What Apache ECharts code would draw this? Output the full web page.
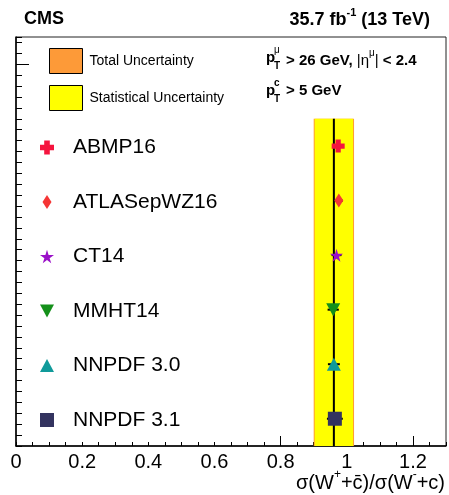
<!DOCTYPE html>
<html>
<head>
<meta charset="utf-8">
<script src="https://cdn.jsdelivr.net/npm/echarts@6/dist/echarts.min.js"></script>
<style>
  html, body { margin: 0; padding: 0; background: #fff; }
  #chart { width: 449px; height: 495px; }
</style>
</head>
<body>
<div id="chart"></div>
<script>
// Measured ratio and its uncertainties
const measuredRatio = 0.961;
const statUncertainty = 0.058;
const totalUncertainty = 0.061;

// Theory predictions (top to bottom)
const modelNames = ['ABMP16', 'ATLASepWZ16', 'CT14', 'MMHT14', 'NNPDF 3.0', 'NNPDF 3.1'];
const modelRatios = [0.974, 0.976, 0.969, 0.959, 0.961, 0.964];
const modelErrors = [0.015, 0.012, 0.015, 0.017, 0.018, 0.024];

// Marker styles for each prediction
const modelColors = ['#f5143e', '#f53535', '#9a10c8', '#14901a', '#109a9a', '#33335f'];
const modelSymbols = [
  'path://M3,0H7V3H10V7H7V10H3V7H0V3H3Z',
  'path://M0,0M14,14M7,0L11.5,7L7,14L2.5,7Z',
  'path://M50,0L61,35L98,35L68,57L79,91L50,70L21,91L32,57L2,35L39,35Z',
  'path://M0,0L14,0L7,13Z',
  'path://M7,0L14,13L0,13Z',
  'rect'
];
const modelSymbolSizes = [13, 14, 13, [14, 13], [14, 13], 14];

const FONT = '"Liberation Sans", Arial, Helvetica, sans-serif';
const nRows = modelNames.length;
const rowPos = modelNames.map((_, i) => nRows - i - 0.5);

const chart = echarts.init(document.getElementById('chart'), null, { renderer: 'canvas' });

function bandItem(color) {
  return function (params, api) {
    const p0 = api.coord([api.value(0), api.value(2)]);
    const p1 = api.coord([api.value(1), api.value(3)]);
    return {
      type: 'rect',
      shape: { x: p0[0], y: p1[1], width: p1[0] - p0[0], height: p0[1] - p1[1] },
      style: { fill: color }
    };
  };
}

const series = [
  {
    name: 'Total Uncertainty',
    type: 'custom',
    renderItem: bandItem('#fd9a38'),
    itemStyle: { color: '#fd9a38' },
    encode: { x: [0, 1], y: [2, 3] },
    data: [[measuredRatio - totalUncertainty, measuredRatio + totalUncertainty, 0, nRows]],
    z: 1,
    silent: true
  },
  {
    name: 'Statistical Uncertainty',
    type: 'custom',
    renderItem: bandItem('#ffff00'),
    itemStyle: { color: '#ffff00' },
    encode: { x: [0, 1], y: [2, 3] },
    data: [[measuredRatio - statUncertainty, measuredRatio + statUncertainty, 0, nRows]],
    z: 2,
    silent: true
  },
  {
    name: 'measured',
    type: 'line',
    data: [[measuredRatio, 0], [measuredRatio, nRows]],
    symbol: 'none',
    lineStyle: { color: '#000', width: 2 },
    z: 3,
    silent: true
  },
  {
    name: 'errors',
    type: 'custom',
    data: modelRatios.map((v, i) => [v, rowPos[i], modelErrors[i]]),
    encode: { x: 0, y: 1 },
    renderItem: function (params, api) {
      const a = api.coord([api.value(0) - api.value(2), api.value(1)]);
      const b = api.coord([api.value(0) + api.value(2), api.value(1)]);
      return {
        type: 'line',
        shape: { x1: a[0], y1: a[1], x2: b[0], y2: b[1] },
        style: { stroke: '#000', lineWidth: 2 }
      };
    },
    z: 4,
    silent: true
  }
];

modelNames.forEach((name, i) => {
  series.push({
    name: name,
    type: 'scatter',
    data: [[modelRatios[i], rowPos[i]]],
    symbol: modelSymbols[i],
    symbolSize: modelSymbolSizes[i],
    itemStyle: { color: modelColors[i], opacity: 1 },
    z: 5,
    silent: true
  });
});

const option = {
  animation: false,
  backgroundColor: '#fff',
  textStyle: { fontFamily: FONT },
  grid: {
    left: 16, right: 3, top: 37, bottom: 49,
    containLabel: false, outerBoundsMode: 'none',
    show: true, borderColor: '#222', borderWidth: 1, backgroundColor: 'transparent'
  },
  xAxis: [
    {
      type: 'value', min: 0, max: 1.3, interval: 0.2,
      axisLine: { show: true, onZero: false, lineStyle: { color: '#000', width: 1.5 } },
      axisTick: { show: true, inside: true, length: 4, lineStyle: { color: '#000', width: 1 } },
      minorTick: { show: true, splitNumber: 4, length: 4, lineStyle: { color: '#000', width: 1 } },
      axisLabel: {
        color: '#000', fontSize: 20, fontFamily: FONT, margin: 6,
        showMaxLabel: false,
        formatter: v => (Math.round(v * 10) / 10).toString()
      },
      splitLine: { show: false }
    },
    {
      type: 'value', min: 0, max: 1.3, position: 'bottom',
      axisLine: { show: false },
      axisTick: { show: true, inside: true, length: 10, customValues: [0.8, 1.0, 1.2], lineStyle: { color: '#000', width: 1 } },
      axisLabel: { show: false },
      splitLine: { show: false }
    }
  ],
  yAxis: [
    {
      type: 'value', min: 0, max: 7.5, interval: 0.2,
      axisLine: { show: true, onZero: false, lineStyle: { color: '#000', width: 1.5 } },
      axisTick: { show: true, inside: true, length: 6, lineStyle: { color: '#000', width: 1 } },
      axisLabel: { show: false },
      splitLine: { show: false }
    },
    {
      type: 'value', min: 0, max: 7.5, position: 'left',
      axisLine: { show: false },
      axisTick: { show: true, inside: true, length: 13, customValues: [7], lineStyle: { color: '#000', width: 1 } },
      axisLabel: { show: false },
      splitLine: { show: false }
    }
  ],
  legend: [
    {
      orient: 'vertical', left: 49, top: 48, padding: 0,
      itemWidth: 33, itemHeight: 25, itemGap: 11,
      selectedMode: false, icon: 'rect',
      textStyle: { fontSize: 14, color: '#000', fontFamily: FONT, lineHeight: 25, padding: [0, 0, 0, 2] },
      data: [
        { name: 'Total Uncertainty', itemStyle: { color: '#fd9a38', borderColor: '#000', borderWidth: 1 } },
        { name: 'Statistical Uncertainty', itemStyle: { color: '#ffff00', borderColor: '#000', borderWidth: 1 } }
      ]
    },
    {
      orient: 'vertical', left: 40, top: 137, padding: 0,
      itemWidth: 14, itemHeight: 14, itemGap: 33.5,
      selectedMode: false,
      textStyle: { fontSize: 21, color: '#000', fontFamily: FONT, lineHeight: 14, padding: [0, 0, 0, 14] },
      data: modelNames.map((n, i) => ({ name: n, icon: modelSymbols[i] }))
    }
  ],
  graphic: [
    {
      type: 'text', left: 24, top: 10,
      style: { text: 'CMS', font: 'bold 18px ' + FONT, fill: '#000' }
    },
    {
      type: 'text', right: 19, top: 7,
      style: {
        text: '{a|35.7 fb}{s|-1}{a| (13 TeV)}',
        fill: '#000',
        rich: {
          a: { font: 'bold 18px ' + FONT, lineHeight: 22, verticalAlign: 'bottom' },
          s: { font: 'bold 11px ' + FONT, lineHeight: 22, verticalAlign: 'top' }
        }
      }
    },
    // kinematic selection: muon
    { type: 'text', x: 266, y: 58, style: { text: 'p', font: 'bold 15px ' + FONT, fill: '#000', verticalAlign: 'middle' } },
    { type: 'text', x: 274, y: 50, style: { text: 'μ', font: '10px ' + FONT, fill: '#000', verticalAlign: 'middle' } },
    { type: 'text', x: 274, y: 66, style: { text: 'T', font: 'bold 10px ' + FONT, fill: '#000', verticalAlign: 'middle' } },
    {
      type: 'text', x: 286, y: 58,
      style: {
        text: '{b|> 26 GeV, }{n||η}{u|μ}{n||}{b| < 2.4}',
        verticalAlign: 'middle', fill: '#000',
        rich: {
          b: { font: 'bold 15px ' + FONT, lineHeight: 20, verticalAlign: 'bottom' },
          n: { font: '15px ' + FONT, lineHeight: 20, verticalAlign: 'bottom' },
          u: { font: '10px ' + FONT, lineHeight: 20, verticalAlign: 'top' }
        }
      }
    },
    // kinematic selection: charm
    { type: 'text', x: 266, y: 91, style: { text: 'p', font: 'bold 15px ' + FONT, fill: '#000', verticalAlign: 'middle' } },
    { type: 'text', x: 274, y: 83, style: { text: 'c', font: 'bold 10px ' + FONT, fill: '#000', verticalAlign: 'middle' } },
    { type: 'text', x: 274, y: 99, style: { text: 'T', font: 'bold 10px ' + FONT, fill: '#000', verticalAlign: 'middle' } },
    { type: 'text', x: 286, y: 91, style: { text: '> 5 GeV', font: 'bold 15px ' + FONT, fill: '#000', verticalAlign: 'middle' } },
    // x-axis title
    {
      type: 'text', right: 4, top: 469,
      style: {
        text: '{n|σ(W}{s|+}{n|+c\u0304)/σ(W}{s|-}{n|+c)}',
        fill: '#000',
        rich: {
          n: { font: '20px ' + FONT, lineHeight: 24, verticalAlign: 'bottom' },
          s: { font: '12px ' + FONT, lineHeight: 24, verticalAlign: 'top' }
        }
      }
    }
  ],
  series: series
};

chart.setOption(option);
</script>
</body>
</html>
